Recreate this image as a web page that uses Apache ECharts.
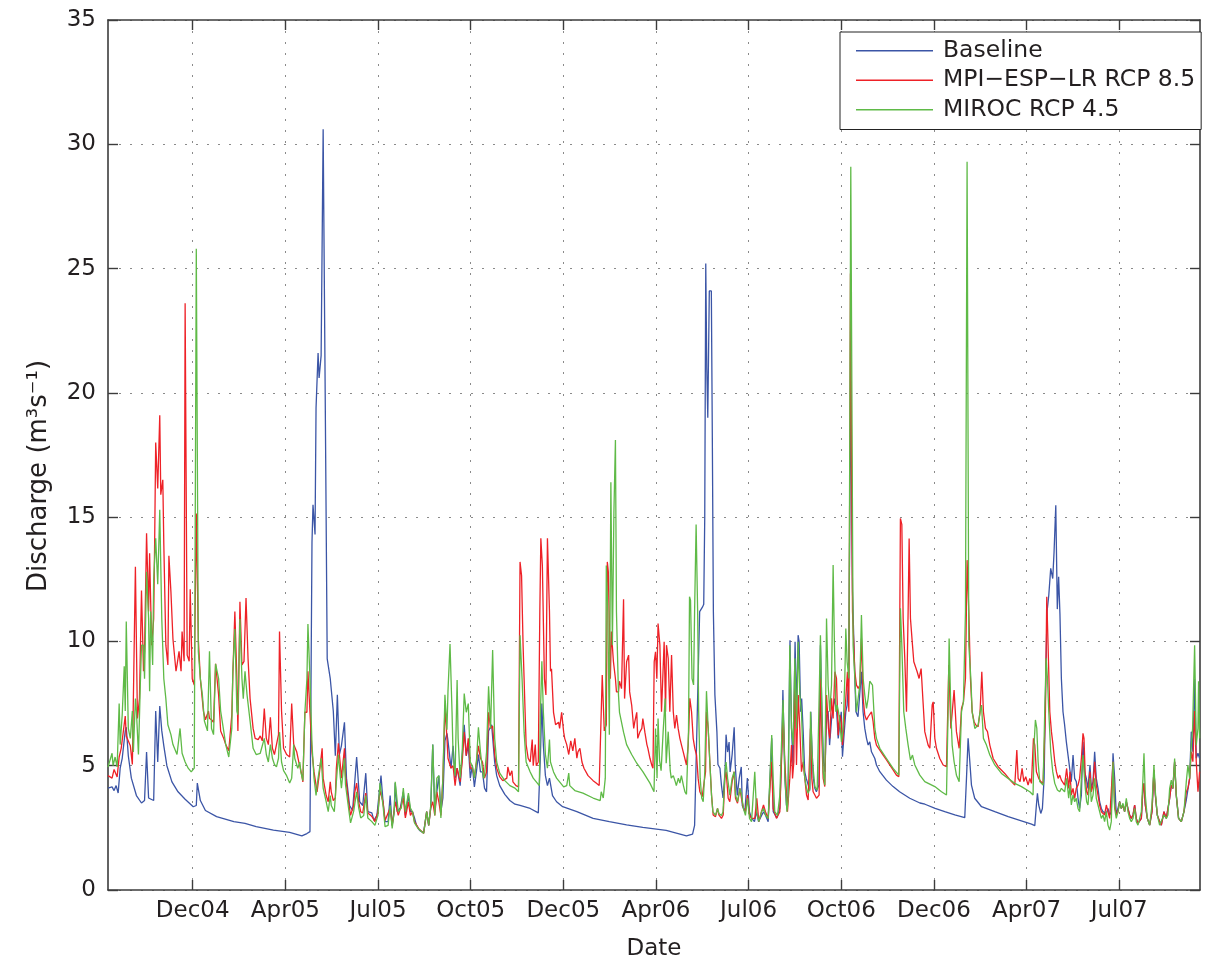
<!DOCTYPE html>
<html>
<head>
<meta charset="utf-8">
<script src="https://cdn.jsdelivr.net/npm/echarts@6/dist/echarts.min.js"></script>
<style>
html, body { margin: 0; padding: 0; background: #fff; }
#chart { width: 1216px; height: 966px; }
</style>
</head>
<body>
<div id="chart"></div>
<script>
// x values are days counted from the first daily record (early October 2004)
const tickDays = [83.5, 174.8, 266.1, 357.4, 448.6, 539.9, 631.2, 722.5, 813.8, 905.1, 996.4];
const tickLabels = ['Dec04', 'Apr05', 'Jul05', 'Oct05', 'Dec05', 'Apr06', 'Jul06', 'Oct06', 'Dec06', 'Apr07', 'Jul07'];
const seriesNames = ['Baseline', 'MPI\u2212ESP\u2212LR RCP 8.5', 'MIROC RCP 4.5'];

// discharge, m3/s : [day, value]
const baseline = [
[0,4.1],[4,4.15],[6,4.0],[8,4.2],[10,3.9],[12,4.9],[14,5.3],[17,6.4],[18,6.55],[20,5.4],[23,4.5],[28,3.8],[33,3.5],[36,3.6],[38,5.55],[40,3.7],[45,3.6],[47,7.2],[49,5.15],[51,7.4],[53,6.4],[55,5.8],[58,5.0],[63,4.35],[69,3.95],[76,3.65],[84,3.35],[87,3.4],[88,4.3],[91,3.6],[96,3.2],[107,2.95],[124,2.75],[135,2.68],
[146,2.55],[163,2.41],[179,2.32],[191,2.18],[196,2.27],[199,2.35],[200,2.4],[201,14.0],[202,15.5],[204,14.3],[205,19.4],[207,21.6],[208,20.6],[210,21.5],[212,30.6],[214,20.0],[216,9.3],[219,8.5],[222,7.2],[224,5.4],[226,7.85],[228,5.45],[230,5.8],[233,6.75],[235,4.5],[238,3.4],[241,3.2],[245,5.35],[248,3.55],[251,3.4],[254,4.7],[256,3.15],[260,3.1],[262,2.8],[265,3.0],[269,4.6],[271,3.55],
[273,2.75],[276,2.75],[278,3.8],[280,2.6],[282,3.15],[283,4.3],[285,3.15],[288,3.3],[291,3.95],[293,3.0],[296,3.8],[298,3.15],[300,3.15],[302,2.9],[304,2.6],[307,2.4],[311,2.3],[314,3.15],[316,2.6],[318,3.3],[320,5.85],[322,3.15],[324,3.95],[326,4.6],[328,3.15],[330,3.7],[332,6.0],[334,6.3],[335,6.0],[338,4.9],[340,5.8],[342,4.5],[344,4.9],[347,4.2],[349,5.4],[351,6.65],[353,5.4],[355,5.85],[357,4.5],[359,5.0],[361,4.15],[363,4.75],[365,5.45],[367,4.75],[369,4.75],[371,4.1],[373,3.95],[375,6.4],[378,6.65],[381,5.15],[383,4.6],[386,4.2],[391,3.85],[396,3.6],[401,3.45],[406,3.4],
[416,3.28],[424,3.1],[426,5.3],[427.5,7.5],[429,5.8],[431,4.6],[433,4.2],[435,4.5],[438,3.8],[442,3.55],[448,3.35],[462,3.15],[478,2.88],[494,2.75],[511,2.62],[527,2.52],
[550,2.4],[570,2.18],[576,2.25],[578,2.6],[580,6.0],[582,9.5],[583,11.2],[586,11.4],[587,11.5],[588,15.0],[589,25.2],[590,21.0],[591,19.0],[592.5,24.1],[594.5,24.1],[595.5,18.0],[596.5,11.2],[598,7.85],[600,6.35],[601,5.05],[603,4.9],[604.5,4.2],[606,3.7],[608,4.75],[609,6.25],[610.5,5.55],[612,5.95],[613,4.75],[615,5.45],[617,6.55],[618,5.05],[620,3.8],[622,4.5],[624,4.95],[625,3.4],[627.5,3.15],[630,4.5],[632,3.15],[634,2.9],[637,2.75],[639,3.15],[641,2.75],[644,3.0],[646,3.15],[648,3.0],[650.5,2.75],[654,6.1],[655.5,3.15],[659,2.9],[662,3.3],[664,5.85],[665,8.05],[667,4.5],[668.5,3.4],
[670,3.8],[672,10.05],[673.5,6.5],[675,5.0],[677,9.99],[678.5,7.17],[680,10.25],[681,9.99],[682.5,7.17],[683.5,7.7],[685,6.37],[686.5,4.76],[688,4.49],[690,4.22],[691.5,4.0],[692.5,7.17],[693.5,5.83],[695,4.49],[696.5,4.09],[698,3.95],[700.5,4.22],[702,9.85],[703.5,7.17],[705,5.16],[706.5,4.76],[708,7.0],[709.5,7.2],[711,5.83],[713,6.9],[714.5,7.3],[716,7.7],[718,7.17],[719.5,6.1],[721,6.64],[722.5,7.17],[723.7,5.36],[725,6.1],[727,7.17],[728.3,7.44],[729.8,8.5],[731.9,20.5],[733.6,12.0],[735.9,8.5],[737,7.17],[739,6.97],[740.8,6.9],[742.4,8.78],[744,7.17],[745.7,6.5],[747.4,6.1],[749,5.83],[750.6,5.96],[752.3,5.56],[754,5.49],[755.6,5.29],[757.2,5.03],[760.5,4.76],[767,4.42],[773.6,4.16],[780,3.95],[790,3.69],[800,3.5],
[805,3.45],[815,3.28],[824.5,3.15],[834.4,3.02],[844.2,2.91],[845.9,4.49],[847.5,6.1],[849.2,5.16],[850.8,4.22],[854,3.69],[860.7,3.35],[873.8,3.15],[887,2.95],[900,2.78],[910,2.65],[913.2,2.59],[914.8,3.42],[915.8,3.89],[917.1,3.42],[919.1,3.08],[920.7,3.28],[922.4,4.49],[924,8.51],[925.3,11.2],[927,11.86],[928.9,12.94],[930.9,12.53],[932.2,13.6],[933.9,15.48],[935.4,11.3],[936.7,12.6],[938,11.1],[939.4,8.51],[941,7.17],[942.6,6.64],[944.3,5.96],[945.9,5.9],[947.6,4.89],[949.2,4.36],[950.9,5.43],[952.5,4.49],[954.1,4.36],[955.8,3.69],[957.4,3.28],[959.1,3.82],[960.7,5.96],[962.3,4.76],[964,4.49],[965.6,4.09],[967.6,5.03],[968.9,4.09],[970.6,4.36],[972.2,5.56],[973.8,4.49],[975.5,4.09],[977.1,3.55],[978.8,3.28],[980.4,3.15],[982,3.22],[983.7,3.08],[985.3,3.28],[987,3.02],[988.6,3.15],[990.3,5.5],[991.9,4.49],[993.5,3.02],[995.2,3.08],[996.8,3.55],
[998.4,3.28],[1000.1,3.42],[1001.7,3.15],[1003.4,3.55],[1005,3.28],[1006.7,3.02],[1008.3,2.88],[1010,3.02],[1011.6,3.42],[1013.2,2.88],[1014.9,2.68],[1016.5,2.61],[1018.2,2.88],[1019.8,4.09],[1020.8,4.29],[1022.1,3.42],[1024.1,2.88],[1026.4,2.61],[1028.7,3.15],[1030.6,4.83],[1032,3.82],[1033.9,3.02],[1036.2,2.75],[1037.9,2.61],[1040.5,3.15],[1042.8,2.88],[1044.4,2.88],[1046.1,3.69],[1047.7,4.22],[1049.3,4.09],[1051,5.16],[1052.6,3.82],[1054.9,2.88],[1057.6,2.75],[1060.2,3.15],[1062.5,3.62],[1064.1,3.62],[1065.8,4.49],[1067.4,6.37],[1069,5.56],[1070.7,8.5],[1072.3,5.3],[1074,5.5],[1075.6,5.3]
];

const mpiRcp85 = [
[0,4.6],[4,4.5],[6,4.85],[9,4.55],[11,5.35],[13,5.7],[17,7.0],[18,6.2],[22,5.8],[24,5.05],[27,13.0],[29,6.9],[31,7.7],[33,12.05],[35,8.8],[36,9.6],[38,14.35],[40,11.2],[41,13.55],[43,9.85],[45,10.9],[46,14.1],[47,18.0],[49,16.15],[51,19.1],[52,15.9],[54,16.5],[55,13.9],[57,9.85],[59,9.05],[60,13.45],[62,12.0],[64,10.1],[65,10.1],[67,8.8],[68,9.05],[70,9.6],[72,8.8],[73,10.4],[75,9.2],[76,23.6],[78,9.45],[80,9.2],[81,12.1],[83,8.5],[85,8.25],[87,15.15],[89,10.1],[91,8.5],[94,7.2],[96,6.85],[99,7.2],[100,6.9],[102,6.85],[104,6.75],[106,9.1],[109,7.85],[111,6.4],[114,6.1],[116,5.85],[119,5.6],[122,7.05],[123,8.65],[125,11.2],[127,8.5],[128,6.4],[130,11.6],[132,9.05],[134,9.2],
[136,11.75],[138,9.3],[140,7.7],[143,6.5],[145,6.1],[148,6.05],[150,6.2],[152,6.0],[154,7.3],[156,6.1],[158,5.85],[160,6.95],[162,5.7],[164,5.45],[166,5.85],[168,6.25],[169,10.4],[171,7.2],[173,5.7],[176,5.45],[179,5.35],[181,7.5],[183,5.85],[186,5.55],[188,5.15],[189,5.0],[191,4.6],[192,4.35],[194,7.15],[196,7.15],[197,8.8],[199,7.15],[201,5.55],[203,4.75],[206,3.95],[208,4.6],[211,5.7],[212,4.5],[215,3.8],[217,3.55],[219,4.35],[220,3.95],[222,3.6],[224,3.7],[225,4.9],[227,5.9],[229,5.0],[230,4.5],[233,5.7],[234,4.6],[237,3.55],[239,3.0],[242,3.4],[243,3.9],[245,4.3],[247,3.55],[249,3.15],[251,3.1],[254,3.9],[256,3.1],[259,3.0],[261,2.9],[263,2.75],[266,3.15],[268,4.0],[271,3.55],
[273,2.8],[278,3.3],[280,2.6],[283,3.55],[286,3.0],[289,3.4],[291,3.7],[293,2.9],[296,3.55],[298,3.0],[300,3.15],[302,2.75],[306,2.48],[311,2.28],[314,3.15],[316,2.6],[318,3.3],[320,3.55],[322,3.0],[324,3.95],[326,3.55],[328,3.0],[330,4.5],[332,7.35],[334,6.1],[335,5.3],[338,4.9],[340,5.0],[342,4.2],[344,4.9],[347,4.35],[349,5.15],[351,6.35],[353,5.4],[355,6.1],[357,4.9],[359,4.9],[361,4.55],[363,5.15],[365,5.8],[367,5.3],[369,5.15],[371,4.5],[373,4.75],[375,7.15],[377,6.5],[379,6.6],[381,5.45],[383,4.9],[386,4.55],[389,4.4],[393,4.5],[394,4.95],[396,4.6],[398,4.8],[399,4.35],[402,4.2],[404.5,4.15],
[406,13.2],[407.5,12.65],[409,9.85],[411,7.15],[412,5.85],[414,5.3],[416,5.15],[418,6.05],[419,5.0],[421,5.85],[422,5.0],[424,5.15],[425.5,11.2],[426.5,14.15],[428,13.05],[430,8.5],[431.5,7.85],[433,14.15],[435,11.2],[436,8.8],[437,8.9],[439,7.15],[441,6.65],[444,6.75],[445,6.5],[447,7.15],[449,6.35],[450,6.1],[452,5.85],[454,5.45],[456,6.0],[458,5.6],[460,6.1],[462,5.3],[463,5.55],[465,5.7],[467,5.15],[469,4.9],[473,4.6],[478,4.4],[481,4.3],[484,4.2],[486,7.15],[487,8.65],[489,6.4],[491,6.65],[492,13.2],[493,12.8],[495,8.5],[496,10.4],[498,9.2],[500,8.5],[501,7.97],[503,7.97],[504,8.4],[506,8.1],[508,11.7],[509,7.7],[511,9.18],[513,9.45],[514,7.97],[516,7.44],[518,6.5],[519,6.75],[521,7.15],[522,6.1],[524,6.35],[526,6.5],[527,6.9],[529,6.35],[531,5.85],[532,5.7],[534,5.3],[536,5.0],[537,4.9],
[538.2,9.18],[539.5,9.58],[540.8,8.5],[542,10.72],[543.8,9.85],[545.4,7.17],[547,8.91],[548,9.99],[549.4,7.17],[550.3,9.85],[552,9.32],[553.6,7.17],[555.3,9.45],[557,7.17],[558.5,6.5],[560.2,7.04],[561.8,6.5],[563.5,6.1],[565.1,5.83],[566.8,5.56],[568.4,5.29],[570,5.03],[571.7,5.83],[573.3,7.71],[575,7.17],[576.6,6.1],[578.2,5.7],[579.9,5.43],[581.5,4.49],[583.2,3.95],[585.5,3.75],[587.4,3.69],[588.8,4.76],[589.7,7.17],[591.4,6.5],[593,5.16],[594.7,3.82],[596.3,3.02],[598.6,2.95],[600.6,3.28],[601.9,3.02],[604.5,2.88],[606.2,3.02],[607.8,4.49],[609.1,4.76],[611.1,3.69],[612.7,3.55],[615,4.36],[617,4.76],[618.3,3.69],[620.3,3.49],[622.6,4.09],[624.2,3.69],[626.2,3.28],[628.1,3.15],[630.1,3.82],[632.1,3.02],[634.1,2.88],[637.3,2.88],[639.3,3.69],[641.3,2.75],[643.9,3.15],[645.9,3.42],[647.8,3.15],[650.5,2.88],[653.8,5.16],[655.4,3.28],[658.7,2.88],[662,3.15],[665.2,7.17],[666.9,5.16],[669.5,3.15],
[670.2,3.08],[671.8,4.49],[673.5,5.83],[674.5,4.49],[675.8,5.16],[676.8,8.78],[678.4,5.03],[680.1,7.84],[681.7,6.5],[683.3,4.76],[685,5.16],[686.6,4.49],[688.3,3.82],[689.9,3.62],[692.2,6.5],[693.5,4.49],[694.8,3.95],[696.5,3.82],[698.1,3.69],[700.7,3.82],[702,8.51],[703.4,6.1],[704.7,4.49],[706.3,4.16],[708,7.84],[709.9,6.5],[711.2,6.1],[712.9,7.71],[714.5,6.9],[716.2,8.78],[717.8,8.51],[719.5,6.23],[721.1,7.04],[722.7,6.77],[723.7,5.83],[725,5.83],[727,7.71],[728.6,8.78],[730,7.17],[731.6,24.8],[733.6,11.2],[735.9,8.78],[737.5,8.24],[739.2,8.11],[740.8,8.24],[742.4,10.12],[744.1,7.71],[745.7,7.04],[747.4,6.84],[749,6.97],[750.6,6.9],[752.3,7.17],[753.9,6.77],[755.6,6.1],[757.2,5.83],[760.5,5.63],[763.8,5.43],[767.1,5.23],[770.3,5.03],[773.6,4.83],[776.9,4.62],[779.2,4.56],[780.8,14.95],[782.2,14.7],[783.5,10.92],[785.1,9.32],[786.8,7.17],[788.4,11.2],[789.4,14.14],[790.7,10.92],[792.7,9.85],[794,9.18],[795.6,9.18],[797.3,8.78],[799.2,8.51],[801.2,8.91],[803.2,7.5],[804.8,6.37],
[808.1,5.83],[809.8,5.7],[812.1,7.44],[813.1,7.57],[814.7,6.1],[816.3,5.7],[819.6,5.29],[822.9,5.03],[826.2,4.96],[828.5,9.05],[830.5,6.5],[833.7,8.04],[836,6.37],[838.7,5.7],[841,7.3],[842.9,7.57],[844.9,8.51],[846.5,13.27],[848.2,11.2],[849.8,8.51],[851.5,7.17],[853.4,6.77],[855.1,6.64],[857.4,6.57],[859.3,7.17],[861,8.78],[862.6,7.17],[864.6,6.5],[866.6,6.37],[868.9,5.83],[872.2,5.29],[877.1,4.96],[883.6,4.69],[890.2,4.36],[893.5,4.22],[895.5,5.63],[896.8,4.49],[898.7,4.36],[900.7,4.89],[902.4,4.36],[904.3,4.56],[906.6,4.22],[908.3,4.49],[909.9,4.29],[911.9,6.1],[913.2,5.83],[914.8,4.76],[917.1,4.49],[919.1,4.36],[921.4,4.29],[923.7,7.17],[925,11.8],[926.3,9.85],[928,7.17],[929.6,6.37],[931.2,5.83],[932.9,5.16],[934.5,4.76],[936.2,4.49],[937.8,4.62],
[939.4,4.42],[941,4.49],[942.6,4.22],[944.6,4.89],[946.6,4.09],[947.9,4.76],[949.2,3.82],[950.9,4.09],[952.5,3.69],[954.1,4.09],[955.8,4.22],[957.4,4.49],[959.1,5.29],[960.7,6.3],[961.7,6.1],[963,4.49],[964.3,3.95],[965.6,3.82],[967.6,4.76],[968.9,3.95],[970.6,4.22],[972.2,5.16],[973.8,4.22],[975.5,3.82],[977.1,3.42],[978.8,3.15],[980.4,3.22],[982,3.02],[983.7,3.42],[985.3,3.15],[987,2.88],[988.6,2.95],[990.3,5.16],[991.9,3.42],[993.5,3.02],[995.2,3.15],[996.8,3.55],[998.4,3.28],[1000.1,3.42],[1001.7,3.15],[1003.4,3.55],[1005,3.28],[1006.7,3.02],[1008.3,2.88],[1010,3.02],[1011.6,3.42],[1013.2,2.88],[1014.9,2.68],[1016.5,2.61],[1018.2,2.88],[1019.8,4.09],[1020.8,4.29],[1022.1,3.42],[1024.1,2.88],[1026.4,2.61],[1028.7,3.15],[1030.6,4.83],[1032,3.82],[1033.9,3.02],[1036.2,2.75],[1037.9,2.61],[1040.5,3.15],[1042.8,2.88],[1044.4,2.88],[1046.1,3.69],[1047.7,4.22],[1049.3,4.09],[1051,5.16],[1052.6,3.82],[1054.9,2.88],[1057.6,2.75],[1060.2,3.15],[1062.5,3.95],[1064.1,4.09],[1065.8,4.49],[1067.4,5.56],[1069,5.16],[1070.7,7.2],[1072.3,5.16],[1074,3.95],[1075.6,4.76]
];

const mirocRcp45 = [
[0,4.95],[4,5.5],[5,5.0],[7,5.35],[9,4.95],[11,7.5],[12,5.85],[14,7.05],[16,9.0],[17,7.2],[18,10.8],[20,6.5],[22,6.1],[24,7.2],[25,5.55],[27,7.7],[28,7.2],[30,5.45],[32,8.5],[33,9.85],[35,9.85],[36,8.5],[38,12.8],[40,10.9],[41,8.0],[42,11.2],[44,9.05],[45,12.5],[47,14.15],[49,12.3],[51,15.3],[52,13.05],[53,10.9],[55,8.5],[57,7.7],[59,6.65],[62,6.25],[64,5.85],[68,5.45],[71,6.5],[73,5.5],[76,5.15],[79,4.9],[82,4.75],[85,4.9],[87,25.8],[89,9.6],[91,8.5],[93,7.85],[95,6.8],[98,6.4],[100,9.6],[102,6.5],[104,6.25],[106,9.1],[109,8.5],[111,7.2],[114,6.4],[116,5.85],[119,5.35],[122,6.5],[123,8.8],[125,10.5],[127,7.2],[128,7.05],[130,10.9],[132,8.5],[133.3,7.7],[135,8.8],
[137,7.85],[140,6.8],[143,5.7],[146,5.45],[150,5.5],[151,5.45],[154,6.1],[156,5.45],[158,5.15],[160,5.85],[162,5.3],[164,5.05],[166,4.95],[168,5.3],[169,6.35],[171,5.15],[173,4.8],[176,4.6],[179,4.3],[181,4.5],[183,5.85],[184,5.3],[187,4.9],[189,5.15],[190,4.75],[192,4.4],[194,7.15],[196,8.5],[197,10.7],[199,8.5],[201,5.85],[203,4.5],[205,3.8],[207,4.5],[210,5.3],[212,4.1],[215,3.55],[217,3.15],[219,3.8],[220,3.4],[223,3.15],[225,4.35],[227,5.45],[229,4.5],[230,4.1],[233,5.3],[234,4.25],[237,3.3],[239,2.7],[242,3.15],[245,3.95],[247,3.3],[249,2.9],[252,3.0],[254,3.8],[256,2.9],[260,2.75],[263,2.6],[266,3.0],[268,4.3],[271,3.4],
[273,2.55],[276,2.6],[278,3.4],[280,2.48],[282,3.15],[283,4.35],[286,3.15],[289,3.3],[291,4.1],[293,3.15],[296,3.9],[298,3.3],[300,3.15],[302,2.7],[306,2.45],[311,2.28],[314,3.15],[316,2.6],[318,3.4],[320,5.85],[322,3.0],[324,4.5],[326,4.6],[328,2.9],[330,4.5],[332,7.85],[334,6.45],[335,8.0],[337,9.9],[339,7.15],[340,5.45],[342,4.6],[344,8.45],[345,6.1],[347,4.5],[349,5.55],[351,7.9],[353,7.15],[355,7.5],[357,5.15],[359,5.0],[361,4.5],[363,5.15],[365,6.55],[367,5.55],[370,4.5],[371,4.6],[373,5.55],[375,8.2],[377,6.5],[379,9.65],[381,6.1],[383,5.15],[386,4.7],[391,4.4],[396,4.2],[401,4.1],[404.5,3.95],
[406,10.25],[408,8.5],[410,6.35],[412,5.15],[416,4.75],[419,4.5],[422,4.35],[425,4.2],[426,7.0],[427.5,9.2],[429,7.15],[431,5.45],[433,4.9],[435,6.05],[436,5.15],[439,4.75],[442,4.5],[445,4.35],[449,4.15],[452,4.2],[454,4.7],[455,4.2],[460,4.0],[468,3.9],[478,3.7],[485,3.6],[486,3.95],[488,3.7],[490,4.5],[491,13.05],[492.5,11.2],[494,6.25],[495.5,16.4],[497,9.85],[498.5,15.2],[500,18.1],[501,11.2],[503,7.85],[504,7.15],[508,6.35],[511,5.85],[516,5.45],[521,5.1],[527,4.76],[534,4.3],
[538,3.95],[539.5,6.5],[541,4.5],[542,6.9],[543.5,5.2],[545,4.8],[547,6.37],[549,7.7],[550,5.1],[552,6.37],[554,4.8],[555,4.5],[557,4.6],[559,4.35],[560,4.2],[562,4.5],[563.5,4.3],[565,4.6],[567,4.2],[568.5,3.95],[570,3.85],[572,6.4],[573,11.8],[574,11.65],[575.5,8.5],[577,8.25],[578,11.2],[579.5,14.7],[581,11.2],[582,7.2],[583.5,4.5],[585,3.7],[586.5,3.55],[588,4.75],[589.7,8.0],[591.4,6.5],[593,5.15],[594.7,3.8],[596,3.15],[598.6,3.0],[600.6,3.28],[602,3.08],[604.5,3.0],[606,3.15],[608,4.75],[609,5.15],[610.5,4.5],[612.7,3.82],[615,4.5],[617,4.76],[618.3,3.82],[620.3,3.55],[622.6,4.09],[624.2,3.82],[626.2,3.28],[628.1,3.0],[630.1,3.69],[632.1,2.88],[634.1,2.75],[635.7,2.68],[637.3,4.76],[639,3.15],[641.3,2.75],[644,3.15],[646,3.28],[648,3.0],[650.5,2.88],[654,6.23],[655.4,4.5],[657,3.15],[659.7,3.0],[662,3.82],[663.6,5.83],[665.2,7.64],[667,4.5],[669,3.15],
[670.2,3.69],[671.8,9.85],[673.5,6.5],[675.1,5.83],[676.8,9.32],[678.4,6.5],[680.1,9.99],[681.7,7.84],[683.3,7.17],[685,5.16],[686.6,4.49],[688.3,4.09],[689.9,3.89],[691.5,4.09],[692.2,7.17],[694.2,5.16],[696.5,4.16],[698.8,4.02],[700.7,4.09],[702,10.25],[703.4,7.17],[704.7,4.76],[706.3,4.22],[708,10.92],[709.6,8.24],[711.2,7.17],[712.9,8.24],[714.5,13.07],[715.8,9.85],[717.2,7.17],[718.5,7.44],[719.8,7.17],[721.1,6.77],[722.7,5.96],[724.4,6.5],[726,8.51],[727,10.52],[728.3,9.18],[730,8.51],[731.9,29.1],[734.2,9.85],[735.9,8.51],[737.5,7.17],[739.2,7.17],[740.8,8.24],[742.4,11.06],[744.1,8.51],[745.7,7.84],[747.4,7.31],[749,7.71],[750.6,8.4],[753.3,8.24],[755.6,6.5],[757.2,6.1],[760.5,5.7],[767.1,5.29],[773.6,4.89],[779.2,4.62],[780.8,11.33],[782.2,9.85],[784.1,7.17],[786.1,6.5],[788.4,5.83],[790.7,5.23],[792.7,5.43],[795,5.03],[799.9,4.62],[804.8,4.36],
[814.7,4.16],[821.3,3.95],[826.2,3.82],[827.8,7.17],[828.8,10.12],[830.5,7.17],[831.8,5.83],[833.7,5.16],[836,4.62],[838.7,4.36],[841,7.17],[842.9,7.57],[844.9,11.19],[846.5,29.3],[848.2,9.85],[850.2,8.51],[851.5,7.17],[854.1,6.5],[857.4,6.64],[859.3,7.17],[860.7,7.44],[862.6,6.1],[865.6,5.83],[868.9,5.43],[873.8,5.03],[880.4,4.69],[886.9,4.49],[893.5,4.29],[900.1,4.16],[908.3,3.95],[911.5,3.82],[912.5,5.83],[913.8,6.84],[915.2,6.5],[916.5,5.16],[918.1,4.36],[921.4,4.22],[923,7.17],[924.4,9.32],[925.7,8.51],[927,7.17],[928.9,5.56],[930.9,4.76],[932.9,4.29],[935.5,4.02],[937.8,3.95],
[939.4,4.09],[941,4.16],[942.6,3.95],[944.6,4.49],[946.6,3.69],[947.9,4.22],[949.2,3.42],[950.9,3.82],[952.5,3.55],[954.1,3.69],[955.8,3.28],[957.4,3.15],[959.1,4.49],[960.7,5.43],[961.7,4.76],[963,4.09],[964.3,3.55],[965.6,3.42],[967.6,4.49],[968.9,3.55],[970.6,3.82],[972.2,4.49],[973.8,3.69],[975.5,3.42],[977.1,3.15],[978.8,2.88],[980.4,3.02],[982,2.75],[983.7,3.15],[985.3,2.61],[987,2.41],[988.6,2.75],[990.3,5.16],[991.9,3.28],[993.5,2.88],[995.2,3.15],[996.8,3.55],[998.4,3.28],[1000.1,3.49],[1001.7,3.15],[1003.4,3.69],[1005,3.15],[1006.7,2.88],[1008.3,2.75],[1010,2.88],[1011.6,3.28],[1013.2,2.75],[1014.9,2.61],[1016.5,2.68],[1018.2,3.15],[1019.8,4.49],[1020.8,5.5],[1022.1,3.82],[1024.1,2.88],[1026.4,2.61],[1028.7,3.42],[1030.6,5.03],[1032,3.95],[1033.9,3.02],[1036.2,2.61],[1037.9,2.55],[1040.5,3.02],[1042.8,2.88],[1044.4,3.02],[1046.1,4.09],[1047.7,4.42],[1049.3,4.09],[1051,5.29],[1052.6,3.82],[1054.9,2.88],[1057.6,2.75],[1060.2,3.15],[1062.5,4.36],[1064.1,5.03],[1065.8,4.49],[1067.4,5.83],[1068.7,6.5],[1070.7,9.85],[1072.3,5.83],[1074,6.5],[1074.6,8.4],[1075.6,6.1]
];

const FONT = 'DejaVu Sans';
const TEXT = '#231f20';
const FRAME = '#3c3c3c';
const dayMax = 1076;

const gridLine = { show: true, lineStyle: { color: '#8a8a8a', width: 1, type: [2, 9] } };
const frameLine = { show: true, onZero: false, lineStyle: { color: FRAME, width: 1.6 } };
const tickStyle = { color: FRAME, width: 1.4 };
const labelFor = v => { const i = tickDays.indexOf(v); return i >= 0 ? tickLabels[i] : ''; };

const chart = echarts.init(document.getElementById('chart'), null, { renderer: 'canvas' });
chart.setOption({
  animation: false,
  backgroundColor: '#ffffff',
  color: ['#3b55a6', '#ee2127', '#5fba47'],
  grid: { left: 108, right: 16, top: 20, bottom: 75, containLabel: false },
  xAxis: [
    {
      type: 'value', min: 0, max: dayMax, position: 'bottom',
      name: 'Date', nameLocation: 'middle', nameGap: 48,
      nameTextStyle: { fontFamily: FONT, fontSize: 23, color: TEXT },
      axisLine: frameLine,
      axisTick: { show: true, inside: true, length: 10, customValues: tickDays, lineStyle: tickStyle },
      axisLabel: { show: true, customValues: tickDays, formatter: labelFor, margin: 10,
                   fontFamily: FONT, fontSize: 23, color: TEXT },
      splitLine: gridLine
    },
    {
      type: 'value', min: 0, max: dayMax, position: 'top',
      axisLine: frameLine,
      axisTick: { show: true, inside: true, length: 10, customValues: tickDays, lineStyle: tickStyle },
      axisLabel: { show: false },
      splitLine: { show: false }
    }
  ],
  yAxis: [
    {
      type: 'value', min: 0, max: 35, interval: 5, position: 'left',
      name: 'Discharge (m\u00b3s\u207b\u00b9)', nameLocation: 'middle', nameGap: 56, nameRotate: 90,
      nameTextStyle: { fontFamily: FONT, fontSize: 26, color: TEXT, padding: [0, 42, 0, 0] },
      axisLine: frameLine,
      axisTick: { show: true, inside: true, length: 10, lineStyle: tickStyle },
      axisLabel: { margin: 12, fontFamily: FONT, fontSize: 23, color: TEXT },
      splitLine: gridLine
    },
    {
      type: 'value', min: 0, max: 35, interval: 5, position: 'right',
      axisLine: frameLine,
      axisTick: { show: true, inside: true, length: 10, lineStyle: tickStyle },
      axisLabel: { show: false },
      splitLine: { show: false }
    }
  ],
  legend: {
    orient: 'vertical', left: 840, top: 32,
    data: seriesNames,
    icon: 'rect', itemWidth: 77, itemHeight: 1.6, itemGap: 0,
    padding: [4, 6, 5, 16],
    backgroundColor: '#ffffff', borderColor: '#222222', borderWidth: 1,
    selectedMode: false,
    textStyle: { fontFamily: FONT, fontSize: 23.5, color: TEXT, lineHeight: 29.5, padding: [0, 0, 0, 5] }
  },
  series: [
    { name: seriesNames[0], type: 'line', data: baseline, xAxisIndex: 0, yAxisIndex: 0,
      showSymbol: false, symbol: 'none', lineStyle: { width: 1.3 }, silent: true, z: 2 },
    { name: seriesNames[1], type: 'line', data: mpiRcp85, xAxisIndex: 0, yAxisIndex: 0,
      showSymbol: false, symbol: 'none', lineStyle: { width: 1.3 }, silent: true, z: 3 },
    { name: seriesNames[2], type: 'line', data: mirocRcp45, xAxisIndex: 0, yAxisIndex: 0,
      showSymbol: false, symbol: 'none', lineStyle: { width: 1.3 }, silent: true, z: 4 }
  ]
});
</script>
</body>
</html>
